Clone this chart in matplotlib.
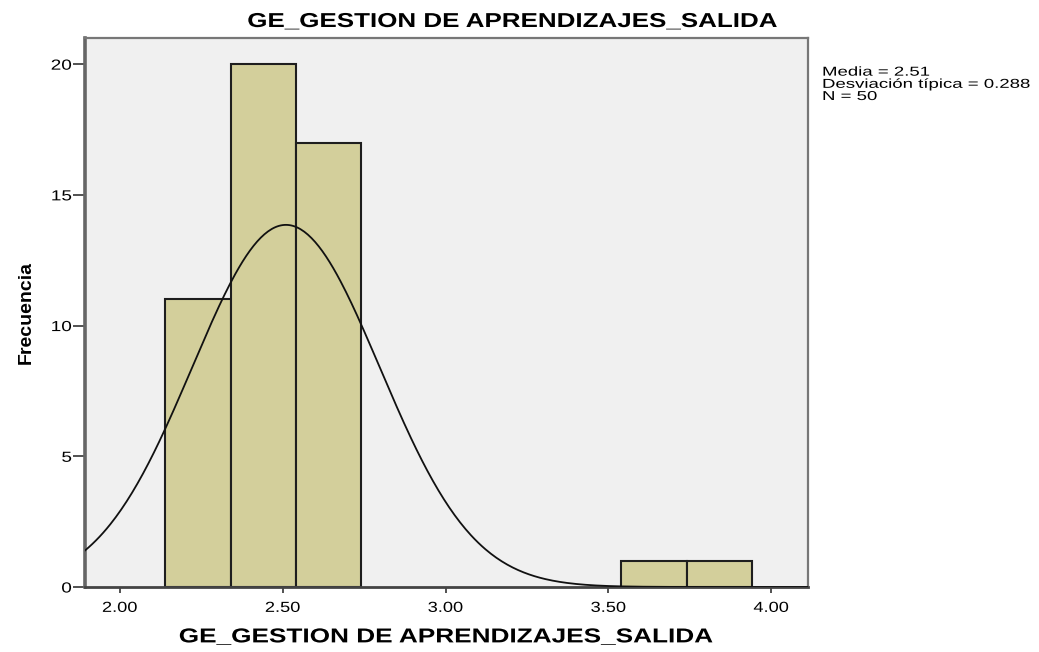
import numpy as np
import matplotlib.pyplot as plt
from matplotlib.patheffects import AbstractPathEffect
from matplotlib.transforms import Affine2D
from matplotlib.path import Path

# histogram bins
bin_left = [2.14, 2.34, 2.54, 3.54, 3.74]
counts = [11, 20, 17, 1, 1]
bin_width = 0.2

media = 2.51
desv = 0.288
n = 50

x_ticks = [2.00, 2.50, 3.00, 3.50, 4.00]
y_ticks = [0, 5, 10, 15, 20]

title = "GE_GESTION DE APRENDIZAJES_SALIDA"


class Stretch(AbstractPathEffect):
    # widen text glyphs horizontally (the original export is stretched sideways)
    def __init__(self, sx, anchor='center'):
        super().__init__()
        self.sx = sx
        self.anchor = anchor

    def draw_path(self, renderer, gc, tpath, affine, rgbFace=None):
        verts = tpath.vertices
        if tpath.codes is not None:
            verts = verts[tpath.codes != Path.CLOSEPOLY]
        if len(verts) == 0:
            return
        if self.anchor == 'left':
            cx = 0.0
        elif self.anchor == 'right':
            cx = verts[:, 0].max()
        else:
            cx = (verts[:, 0].min() + verts[:, 0].max()) / 2
        st = Affine2D().translate(-cx, 0).scale(self.sx, 1).translate(cx, 0)
        renderer.draw_path(gc, tpath, st + affine, rgbFace)


plt.rcParams['font.family'] = ['Liberation Sans', 'DejaVu Sans']

fig = plt.figure(figsize=(10.39, 6.52), dpi=100)
ax = fig.add_axes([0.0818, 0.0997, 0.6959, 0.842])
ax.set_facecolor('#f0f0f0')

ax.bar(bin_left, counts, width=bin_width, align='edge',
       color='#d3cf9b', edgecolor='#1e1e1e', linewidth=1.5, zorder=2)

xs = np.linspace(1.893, 4.113, 400)
ys = n * bin_width / (desv * np.sqrt(2 * np.pi)) * np.exp(-0.5 * ((xs - media) / desv) ** 2)
ax.plot(xs, ys, color='#111111', linewidth=1.3, zorder=3)

ax.set_xlim(1.893, 4.113)
ax.set_ylim(0, 21)
ax.set_xticks(x_ticks)
ax.set_xticklabels([f"{t:.2f}" for t in x_ticks])
ax.set_yticks(y_ticks)
ax.tick_params(axis='both', labelsize=10.5, width=1.2, color='#333333')
ax.tick_params(axis='x', length=4.5, pad=5.5)
ax.tick_params(axis='y', length=8.5, pad=1)

for lab in ax.get_xticklabels():
    lab.set_path_effects([Stretch(1.25, 'center')])
for lab in ax.get_yticklabels():
    lab.set_path_effects([Stretch(1.3, 'right')])

ax.spines['left'].set_linewidth(2.6)
ax.spines['left'].set_color('#666666')
ax.spines['bottom'].set_linewidth(2)
ax.spines['bottom'].set_color('#444444')
for side in ['top', 'right']:
    ax.spines[side].set_linewidth(1.6)
    ax.spines[side].set_color('#777777')

fig.text(0.4937, 1 - 27 / 652, title, fontsize=14.5, fontweight='bold',
         ha='center', va='baseline', path_effects=[Stretch(1.29, 'center')])
xl = ax.set_xlabel(title, fontsize=14.5, fontweight='bold', labelpad=9)
xl.set_path_effects([Stretch(1.30, 'center')])
ax.set_ylabel("Frecuencia", fontsize=14, fontweight='bold')
ax.yaxis.set_label_coords(-0.07, 0.5)

# baseline of the last line ("N = 50") sits at about y=100 px
fig.text(822 / 1039, 1 - 100 / 652, f"Media = {media}\nDesviación típica = {desv}\nN = {n}",
         fontsize=9.3, va='baseline', ha='left', linespacing=1.02,
         path_effects=[Stretch(1.44, 'left')])

plt.savefig('out.png', dpi=100)
